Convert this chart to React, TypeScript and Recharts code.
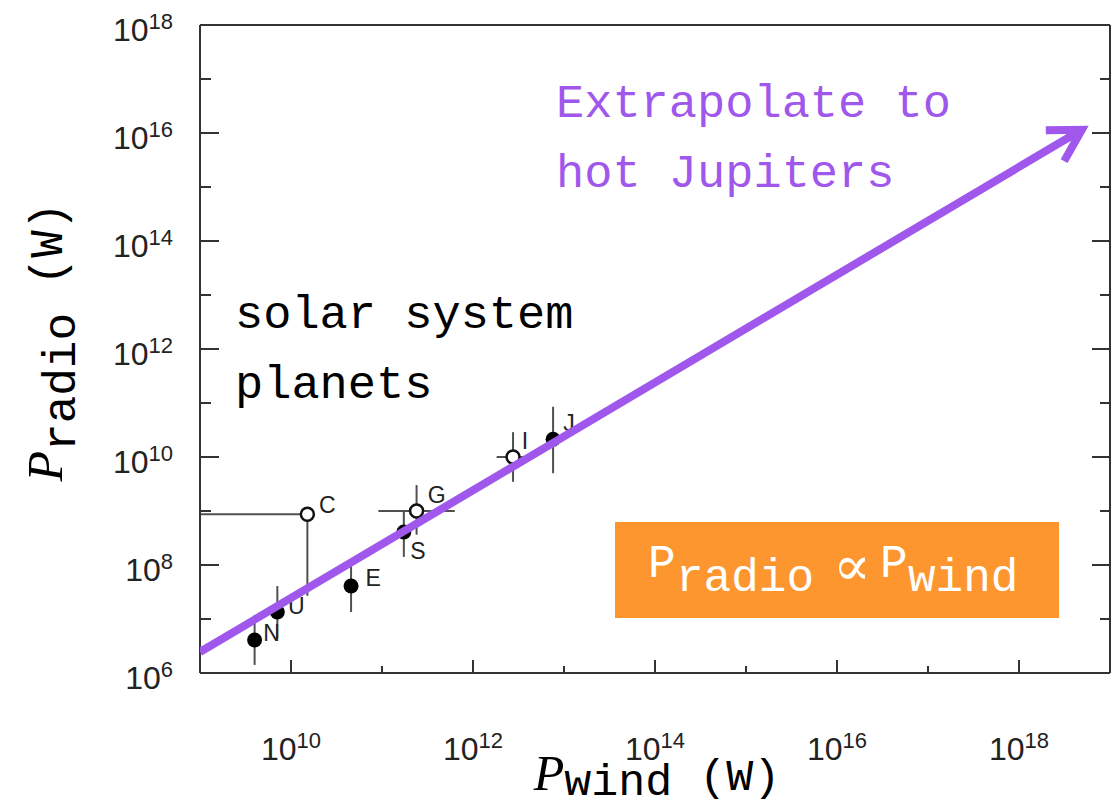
import { ScatterChart, Scatter, XAxis, YAxis, ReferenceLine } from 'recharts'

// all values are log10 of power in watts
const PLANETS = ['N', 'U', 'E', 'S', 'J']
const PLANET_WIND = [9.6, 9.85, 10.66, 11.24, 12.88]
const PLANET_RADIO = [6.61, 7.13, 7.61, 8.61, 10.33]
const PLANET_RADIO_RANGE = [[6.15, 7.07], [6.65, 7.61], [7.13, 8.06], [8.15, 9.0], [9.7, 10.93]]

const MOONS = ['C', 'G', 'I']
const MOON_WIND = [10.18, 11.38, 12.44]
const MOON_RADIO = [8.94, 9.0, 10.0]
const MOON_RADIO_RANGE = [[7.43, 8.94], [8.56, 9.48], [9.54, 10.46]]
const MOON_WIND_RANGE = [[9.0, 10.18], [10.96, 11.8], [12.26, 12.6]]

const TREND_WIND = [9.0, 18.69]
const TREND_RADIO = [6.39, 16.06]

const X_DOMAIN = [9, 19]
const X_TOP_DOMAIN = [9.22, 19.22]
const Y_DOMAIN = [6, 18]
const X_TICKS = [10, 11, 12, 13, 14, 15, 16, 17, 18]
const X_TOP_TICKS = [10, 11, 12, 13, 14, 15, 16, 17, 18, 19]
const Y_TICKS = [6, 7, 8, 9, 10, 11, 12, 13, 14, 15, 16, 17, 18]

const W = 1118
const H = 809
const AXIS = '#333'
const BAR = '#505050'
const PURPLE = '#A057EC'
const ORANGE = '#FE9630'
const MONO = '"Liberation Mono", "DejaVu Sans Mono", monospace'
const SANS = '"Liberation Sans", Arial, sans-serif'
const SERIF = '"Liberation Serif", "DejaVu Serif", serif'

// label centre relative to its marker
const LABEL_OFFSET: Record<string, [number, number]> = {
  N: [17, -7],
  U: [19, -6],
  C: [20, -9],
  E: [22, -8],
  S: [14, 19],
  G: [20, -16],
  I: [12, -16],
  J: [16, -16],
}

const pow = (e: number) => Math.pow(10, e)
const expOf = (v: number) => Math.round(Math.log10(v))

const planetData = PLANETS.map((label, i) => ({ label, wind: pow(PLANET_WIND[i]), radio: pow(PLANET_RADIO[i]) }))
const moonData = MOONS.map((label, i) => ({ label, wind: pow(MOON_WIND[i]), radio: pow(MOON_RADIO[i]) }))
const trendData = TREND_WIND.map((w, i) => ({ wind: pow(w), radio: pow(TREND_RADIO[i]) }))

const errorBars = [
  ...PLANETS.map((_, i) => ({ x: [PLANET_WIND[i], PLANET_WIND[i]], y: PLANET_RADIO_RANGE[i] })),
  ...MOONS.flatMap((_, i) => [
    { x: [MOON_WIND[i], MOON_WIND[i]], y: MOON_RADIO_RANGE[i] },
    { x: MOON_WIND_RANGE[i], y: [MOON_RADIO[i], MOON_RADIO[i]] },
  ]),
]

function Power({ e }: { e: number }) {
  return (
    <>
      <tspan>10</tspan>
      <tspan dy={-12} fontSize={22}>{e}</tspan>
    </>
  )
}

function XTick(props: any) {
  const { x, y, payload, side } = props
  const e = expOf(payload.value)
  const major = e % 2 === 0
  const len = major ? 13 : 7
  const dir = side === 'top' ? 1 : -1
  return (
    <g>
      <line x1={x} x2={x} y1={y} y2={y + dir * len} stroke={AXIS} strokeWidth={2} />
      {side === 'bottom' && major && (
        <text x={x} y={y + 87} textAnchor="middle" fontFamily={SANS} fontSize={32} fill="#222">
          <Power e={e} />
        </text>
      )}
    </g>
  )
}

function YTick(props: any) {
  const { x, y, payload, side } = props
  const e = expOf(payload.value)
  const major = e % 2 === 0
  const left = side === 'left'
  const len = left ? (major ? 19 : 11) : major ? 18 : 10
  return (
    <g>
      <line x1={x} x2={x + (left ? len : -len)} y1={y} y2={y} stroke={AXIS} strokeWidth={2} />
      {left && major && (
        <text x={x - 27} y={y + 16} textAnchor="end" fontFamily={SANS} fontSize={32} fill="#222">
          <Power e={e} />
        </text>
      )}
    </g>
  )
}

function Marker(props: any) {
  const { cx, cy, payload, open } = props
  const [dx, dy] = LABEL_OFFSET[payload.label] ?? [14, -10]
  return (
    <g>
      {open ? (
        <circle cx={cx} cy={cy} r={6.5} fill="#fff" stroke="#111" strokeWidth={2.5} />
      ) : (
        <circle cx={cx} cy={cy} r={7.5} fill="#000" />
      )}
      <text x={cx + dx} y={cy + dy} textAnchor="middle" dominantBaseline="central" fontFamily={SANS} fontSize={23} fill="#222">
        {payload.label}
      </text>
    </g>
  )
}

// shaft plus open arrowhead at the last point of the trend series
function TrendArrow(props: any) {
  const pts = props.points ?? []
  if (pts.length < 2) return <g />
  const { x: x1, y: y1 } = pts[0]
  const { x: x2, y: y2 } = pts[pts.length - 1]
  const back = Math.atan2(y2 - y1, x2 - x1) + Math.PI
  const arm = 36
  const spread = Math.PI / 6
  const a = [x2 + arm * Math.cos(back - spread), y2 + arm * Math.sin(back - spread)]
  const b = [x2 + arm * Math.cos(back + spread), y2 + arm * Math.sin(back + spread)]
  return (
    <g>
      <line x1={x1} y1={y1} x2={x2} y2={y2} stroke={PURPLE} strokeWidth={8} />
      <polyline
        points={`${a[0]},${a[1]} ${x2},${y2} ${b[0]},${b[1]}`}
        fill="none"
        stroke={PURPLE}
        strokeWidth={8}
        strokeLinejoin="miter"
      />
    </g>
  )
}

function Annotations() {
  return (
    <svg width={W} height={H} style={{ position: 'absolute', left: 0, top: 0, pointerEvents: 'none' }}>
      <text fontFamily={MONO} fontSize={47} fill={PURPLE}>
        <tspan x={556} y={117}>Extrapolate to</tspan>
        <tspan x={556} y={187}>hot Jupiters</tspan>
      </text>
      <text fontFamily={MONO} fontSize={47} fill="#000">
        <tspan x={235} y={328}>solar system</tspan>
        <tspan x={235} y={398}>planets</tspan>
      </text>

      <rect x={615} y={522} width={444} height={96} fill={ORANGE} />
      <text fontFamily={MONO} fontSize={46} fill="#fff">
        <tspan x={648} y={577}>P</tspan>
        <tspan x={676} y={591}>radio</tspan>
        <tspan x={880} y={577}>P</tspan>
        <tspan x={908} y={591}>wind</tspan>
      </text>
      <text x={852} y={566} textAnchor="middle" dominantBaseline="central" fontFamily={SERIF} fontSize={56} fill="#fff">
        ∝
      </text>

      <text transform="translate(62,342) rotate(-90)" textAnchor="middle" fontFamily={MONO} fontSize={46} fill="#000">
        <tspan fontFamily={SERIF} fontStyle="italic" fontSize={50}>P</tspan>
        <tspan dy={13}>radio</tspan>
        <tspan dy={-13}> (W)</tspan>
      </text>
      <text x={657} y={790} textAnchor="middle" fontFamily={MONO} fontSize={45} fill="#000">
        <tspan fontFamily={SERIF} fontStyle="italic" fontSize={50}>P</tspan>
        <tspan dy={5}>wind</tspan>
        <tspan dy={-5}> (W)</tspan>
      </text>
    </svg>
  )
}

export default function App() {
  return (
    <div style={{ position: 'absolute', left: 0, top: 0, width: W, height: H, background: '#fff' }}>
      <ScatterChart width={W} height={H} margin={{ top: 0, right: 0, bottom: 0, left: 0 }}>
        <XAxis
          dataKey="wind"
          type="number"
          scale="log"
          domain={X_DOMAIN.map(pow)}
          allowDataOverflow
          ticks={X_TICKS.map(pow)}
          interval={0}
          height={136}
          tickSize={0}
          tickMargin={0}
          tickLine={false}
          axisLine={{ stroke: AXIS, strokeWidth: 2 }}
          tick={(p: any) => <XTick {...p} side="bottom" />}
        />
        <XAxis
          xAxisId="top"
          orientation="top"
          type="number"
          scale="log"
          domain={X_TOP_DOMAIN.map(pow)}
          allowDataOverflow
          ticks={X_TOP_TICKS.map(pow)}
          interval={0}
          height={25}
          tickSize={0}
          tickMargin={0}
          tickLine={false}
          axisLine={{ stroke: AXIS, strokeWidth: 2 }}
          tick={(p: any) => <XTick {...p} side="top" />}
        />
        <YAxis
          dataKey="radio"
          type="number"
          scale="log"
          domain={Y_DOMAIN.map(pow)}
          allowDataOverflow
          ticks={Y_TICKS.map(pow)}
          interval={0}
          width={200}
          tickSize={0}
          tickMargin={0}
          tickLine={false}
          axisLine={{ stroke: AXIS, strokeWidth: 2 }}
          tick={(p: any) => <YTick {...p} side="left" />}
        />
        <YAxis
          yAxisId="right"
          orientation="right"
          type="number"
          scale="log"
          domain={Y_DOMAIN.map(pow)}
          allowDataOverflow
          ticks={Y_TICKS.map(pow)}
          interval={0}
          width={8}
          tickSize={0}
          tickMargin={0}
          tickLine={false}
          axisLine={{ stroke: AXIS, strokeWidth: 2 }}
          tick={(p: any) => <YTick {...p} side="right" />}
        />

        {errorBars.map((bar, i) => (
          <ReferenceLine
            key={`err-${i}`}
            segment={[
              { x: pow(bar.x[0]), y: pow(bar.y[0]) },
              { x: pow(bar.x[1]), y: pow(bar.y[1]) },
            ]}
            stroke={BAR}
            strokeWidth={2}
            ifOverflow="visible"
          />
        ))}

        <Scatter
          name="planets"
          data={planetData}
          isAnimationActive={false}
          shape={(p: any) => <Marker {...p} open={false} />}
        />
        <Scatter
          name="satellites"
          data={moonData}
          isAnimationActive={false}
          shape={(p: any) => <Marker {...p} open />}
        />
        <Scatter
          name="trend"
          data={trendData}
          isAnimationActive={false}
          line={(p: any) => <TrendArrow {...p} />}
          shape={() => <g />}
        />
      </ScatterChart>
      <Annotations />
    </div>
  )
}
